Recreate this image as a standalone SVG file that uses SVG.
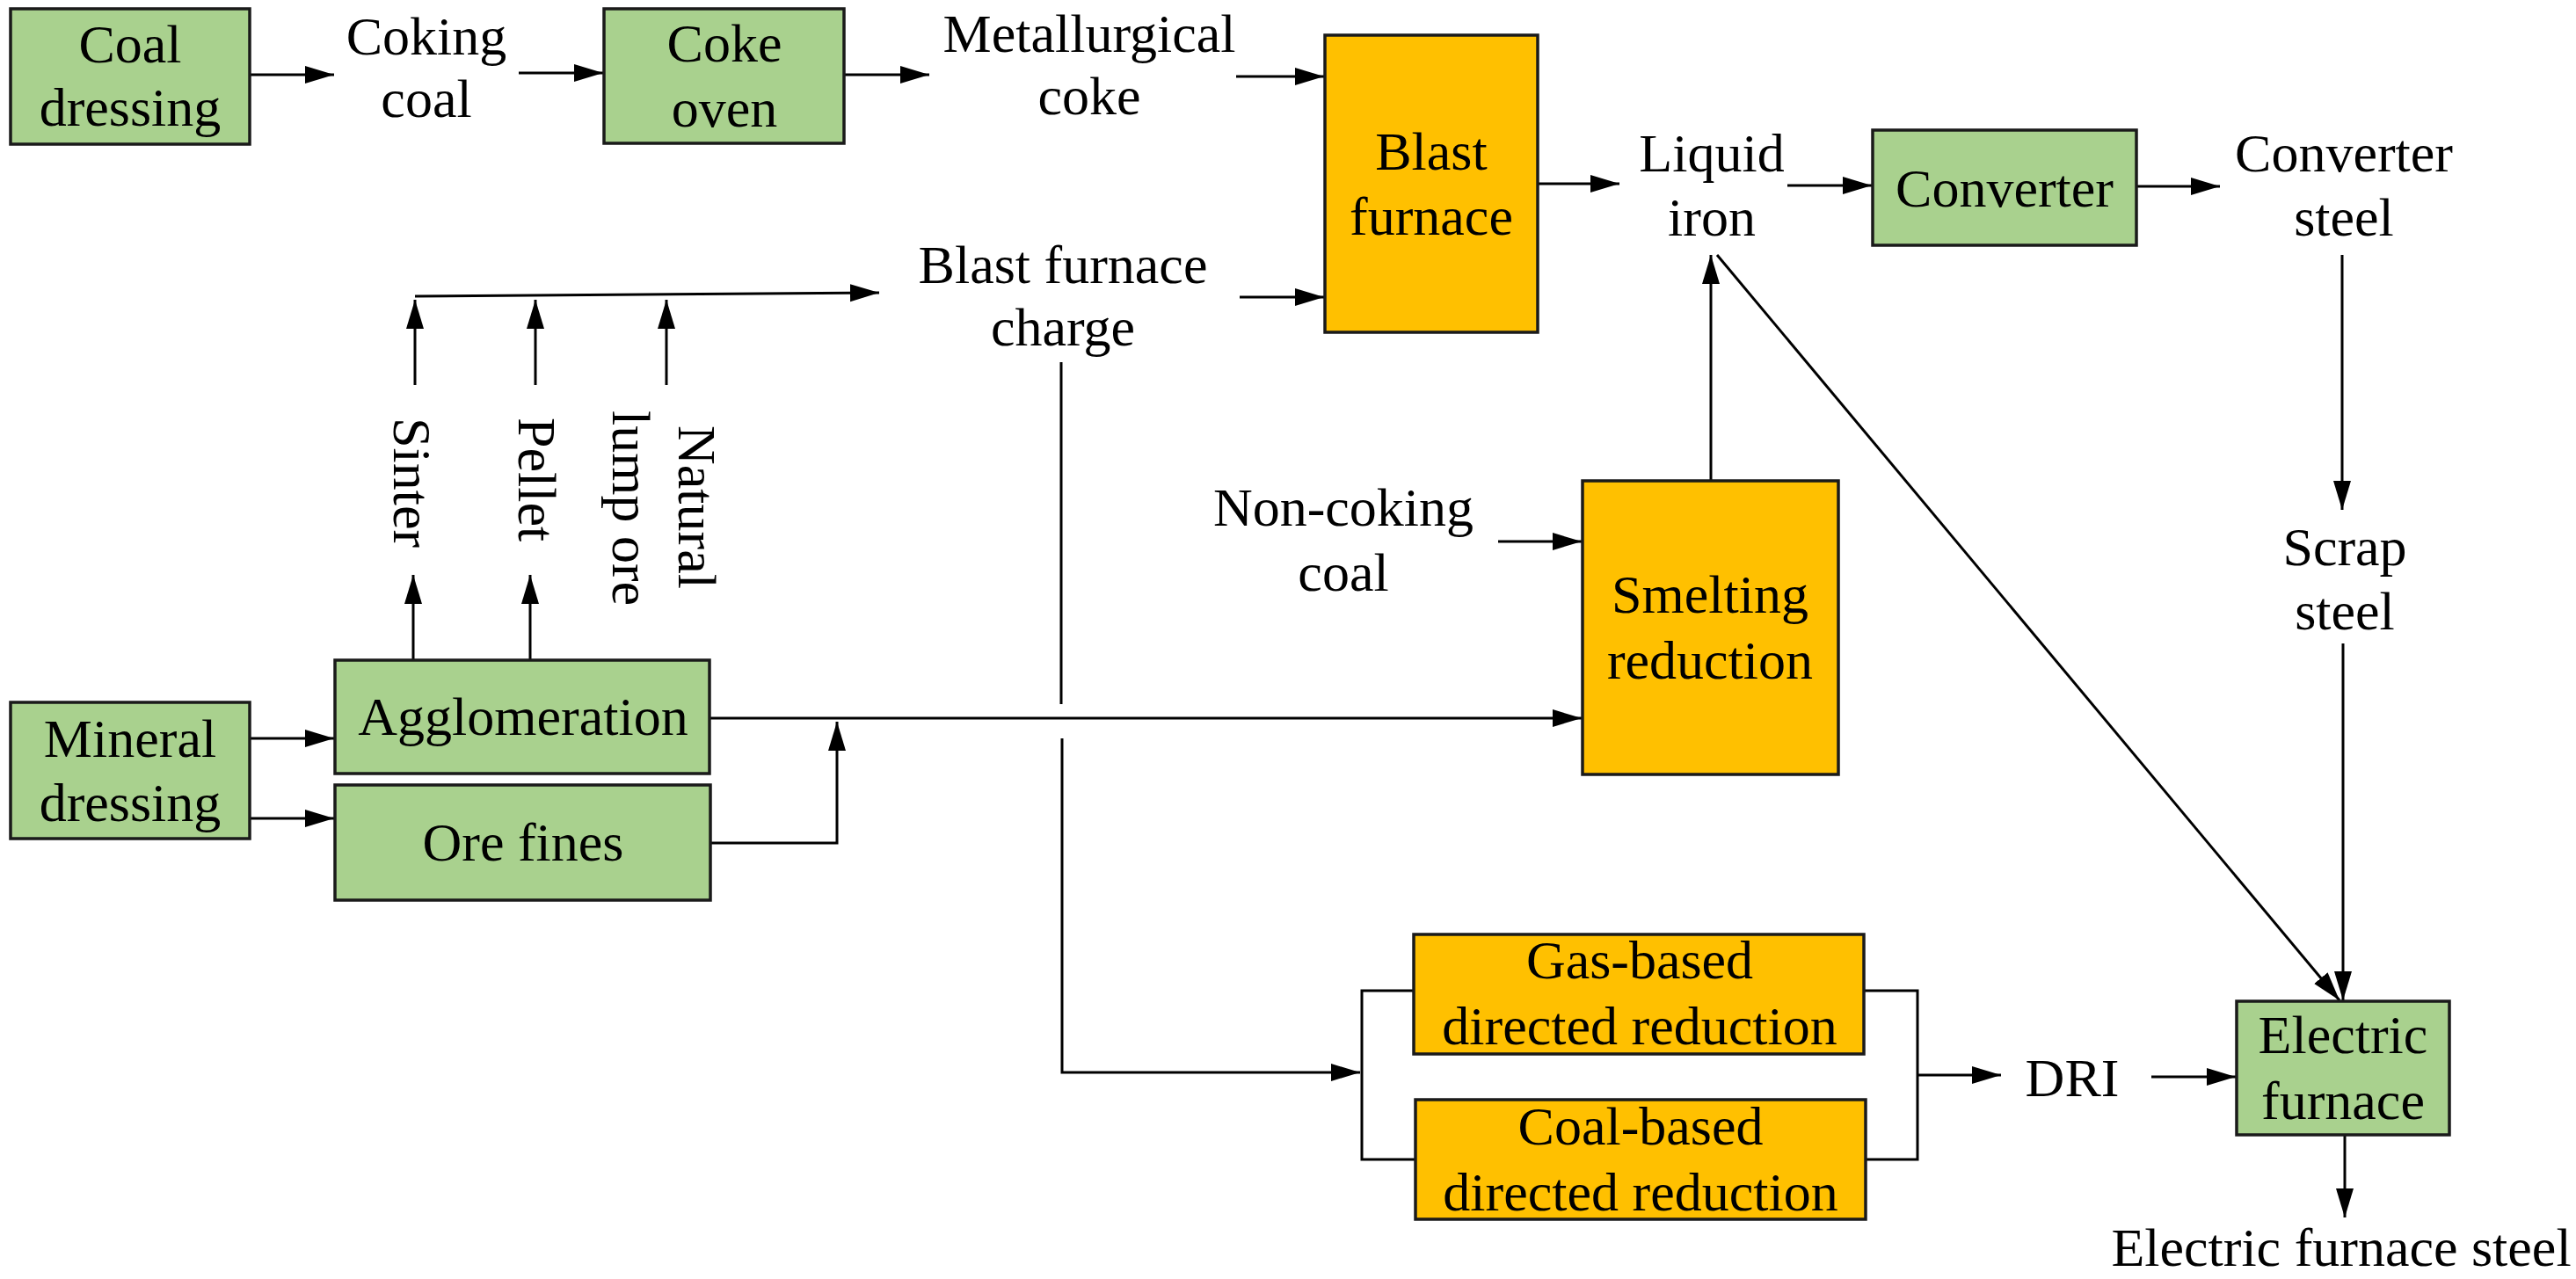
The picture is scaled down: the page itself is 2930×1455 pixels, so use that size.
<svg xmlns="http://www.w3.org/2000/svg" width="2930" height="1455" viewBox="0 0 2930 1455">
<style>
.t{font-family:"Liberation Serif","Times New Roman",serif;font-size:62px;fill:#000;text-anchor:middle}
.ts{font-family:"Liberation Serif","Times New Roman",serif;font-size:62px;fill:#000;text-anchor:start}
.g{fill:#A9D18E;stroke:#1a1a1a;stroke-width:3.5}
.o{fill:#FFC000;stroke:#1a1a1a;stroke-width:3.5}
.c{fill:none;stroke:#000;stroke-width:3}
.a{fill:none;stroke:#000;stroke-width:3;marker-end:url(#ah)}
</style>
<defs>
<marker id="ah" markerUnits="userSpaceOnUse" markerWidth="36" markerHeight="22" refX="33" refY="10" orient="auto"><path d="M0,0 L33,10 L0,20 z" fill="#000"/></marker>
</defs>
<rect width="2930" height="1455" fill="#fff"/>
<g id="connectors">
<path class="a" d="M284,85 H380"/>
<path class="a" d="M590,83 H686"/>
<path class="a" d="M960,85 H1057"/>
<path class="a" d="M1406,87 H1506"/>
<path class="a" d="M1410,338 H1506"/>
<path class="a" d="M472,337 L1000,333"/>
<path class="a" d="M472,438 V341"/>
<path class="a" d="M609,438 V341"/>
<path class="a" d="M758,438 V341"/>
<path class="a" d="M470,750 V654"/>
<path class="a" d="M603,750 V654"/>
<path class="a" d="M284,840 H380"/>
<path class="a" d="M284,931 H380"/>
<path class="a" d="M807,817 H1799"/>
<path class="a" d="M808,959 H952 V821"/>
<path class="c" d="M1207,412 V801"/>
<path class="a" d="M1208,840 V1220 H1547"/>
<path class="c" d="M1608,1127 H1549 V1319 H1610"/>
<path class="c" d="M2120,1127 H2181 V1319 H2122"/>
<path class="a" d="M2181,1223 H2276"/>
<path class="a" d="M2447,1225 H2543"/>
<path class="a" d="M1749,209 H1842"/>
<path class="a" d="M2033,211 H2129"/>
<path class="a" d="M2430,212 H2525"/>
<path class="a" d="M1946,547 V290"/>
<path class="a" d="M1953,290 L2661,1138"/>
<path class="a" d="M2664,290 V580"/>
<path class="a" d="M2665,732 V1138"/>
<path class="a" d="M1704,616 H1799"/>
<path class="a" d="M2667,1291 V1385"/>
</g>
<g id="coal-dressing"><rect class="g" x="12" y="10" width="272" height="154"/><text class="t" x="148" y="71">Coal</text><text class="t" x="148" y="143">dressing</text></g>
<g id="coking-coal"><text class="t" x="485" y="62">Coking</text><text class="t" x="485" y="133">coal</text></g>
<g id="coke-oven"><rect class="g" x="687" y="10" width="273" height="153"/><text class="t" x="824" y="70">Coke</text><text class="t" x="824" y="144">oven</text></g>
<g id="metallurgical-coke"><text class="t" x="1239" y="59">Metallurgical</text><text class="t" x="1239" y="130">coke</text></g>
<g id="blast-furnace"><rect class="o" x="1507" y="40" width="242" height="338"/><text class="t" x="1628" y="193">Blast</text><text class="t" x="1628" y="267">furnace</text></g>
<g id="liquid-iron"><text class="t" x="1947" y="195">Liquid</text><text class="t" x="1947" y="268">iron</text></g>
<g id="converter"><rect class="g" x="2130" y="148" width="300" height="131"/><text class="t" x="2280" y="235">Converter</text></g>
<g id="converter-steel"><text class="t" x="2666" y="195">Converter</text><text class="t" x="2666" y="268">steel</text></g>
<g id="blast-furnace-charge"><text class="t" x="1209" y="322">Blast furnace</text><text class="t" x="1209" y="393">charge</text></g>
<g id="sinter"><text class="ts" transform="translate(448,475) rotate(90)" x="0" y="0">Sinter</text></g>
<g id="pellet"><text class="ts" transform="translate(590,475) rotate(90)" x="0" y="0">Pellet</text></g>
<g id="natural-lump-ore"><text class="t" transform="translate(772,577) rotate(90)" x="0" y="0">Natural</text><text class="t" transform="translate(697,578) rotate(90)" x="0" y="0">lump ore</text></g>
<g id="non-coking-coal"><text class="t" x="1528" y="598">Non-coking</text><text class="t" x="1528" y="672">coal</text></g>
<g id="smelting-reduction"><rect class="o" x="1800" y="547" width="291" height="334"/><text class="t" x="1945" y="697">Smelting</text><text class="t" x="1945" y="772">reduction</text></g>
<g id="scrap-steel"><text class="t" x="2667" y="643">Scrap</text><text class="t" x="2667" y="716">steel</text></g>
<g id="mineral-dressing"><rect class="g" x="12" y="799" width="272" height="155"/><text class="t" x="148" y="861">Mineral</text><text class="t" x="148" y="934">dressing</text></g>
<g id="agglomeration"><rect class="g" x="381" y="751" width="426" height="129"/><text class="t" x="595" y="836">Agglomeration</text></g>
<g id="ore-fines"><rect class="g" x="381" y="893" width="427" height="131"/><text class="t" x="595" y="979">Ore fines</text></g>
<g id="gas-based-dr"><rect class="o" x="1608" y="1063" width="512" height="136"/><text class="t" x="1865" y="1113">Gas-based</text><text class="t" x="1865" y="1188">directed reduction</text></g>
<g id="coal-based-dr"><rect class="o" x="1610" y="1251" width="512" height="136"/><text class="t" x="1866" y="1302">Coal-based</text><text class="t" x="1866" y="1377">directed reduction</text></g>
<g id="dri"><text class="t" x="2357" y="1247">DRI</text></g>
<g id="electric-furnace"><rect class="g" x="2544" y="1139" width="242" height="152"/><text class="t" x="2665" y="1198">Electric</text><text class="t" x="2665" y="1273">furnace</text></g>
<g id="electric-furnace-steel"><text class="t" x="2663" y="1440">Electric furnace steel</text></g>
</svg>
